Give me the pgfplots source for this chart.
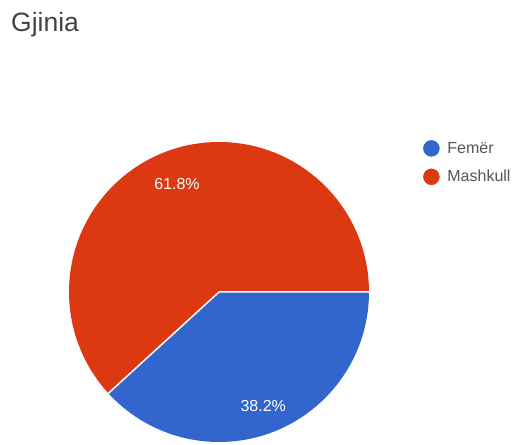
\documentclass[border=0pt]{standalone}
\usepackage{pgfplots}
\pgfplotsset{compat=1.18}
\usetikzlibrary{calc}
\usepackage{fontspec}
\setmainfont{Liberation Sans}

\definecolor{pieblue}{HTML}{3366CC}
\definecolor{piered}{HTML}{DC3912}
\definecolor{titlegray}{HTML}{424242}
\definecolor{leggray}{HTML}{555555}

% shares in percent
\def\femer{38.2}
\def\mashkull{61.8}

\begin{document}
\begin{tikzpicture}
\pgfmathsetmacro\cut{-\femer*3.6}
\pgfmathsetmacro\midA{\cut/2}
\pgfmathsetmacro\midB{(\cut-360)/2}
\begin{axis}[
  scale only axis,
  width=513pt, height=444pt,
  xmin=0, xmax=513, ymin=0, ymax=444,
  hide axis, clip=false,
  legend style={at={(axis cs:423,304)}, anchor=north west, draw=none,
    fill=none, font=\fontsize{16}{18}\selectfont\color{leggray},
    row sep=12pt, inner sep=0pt,
    nodes={inner sep=1pt}},
  legend cell align=left,
  legend image code/.code={\fill[#1] (0pt,0pt) circle (8pt);
    \path[draw=none, fill=none] (0pt,0pt) -- (15pt,0pt);},
]
\path (axis cs:0,0) rectangle (axis cs:513,444);
\addlegendimage{pieblue}
\addlegendentry{Femër}
\addlegendimage{piered}
\addlegendentry{Mashkull}

\fill[piered] (axis cs:219,152) -- (axis cs:369,152)
  arc[start angle=0, end angle=\cut+360, radius=150pt] -- cycle;
\fill[pieblue] (axis cs:219,152) -- (axis cs:369,152)
  arc[start angle=0, end angle=\cut, radius=150pt] -- cycle;
\draw[white, line width=1.5pt] (axis cs:369,152) -- (axis cs:219,152)
  -- ++(\cut:150pt);

\node[white, font=\fontsize{16}{18}\selectfont] at ($(axis cs:219,152)+(\midA:122pt)$) {\femer\%};
\node[white, font=\fontsize{16}{18}\selectfont] at ($(axis cs:219,152)+(\midB:116pt)$) {\mashkull\%};

\node[titlegray, anchor=base west, inner sep=0pt,
  font=\fontsize{26.5}{30}\selectfont] at (axis cs:11,412) {Gjinia};
\end{axis}
\end{tikzpicture}
\end{document}
